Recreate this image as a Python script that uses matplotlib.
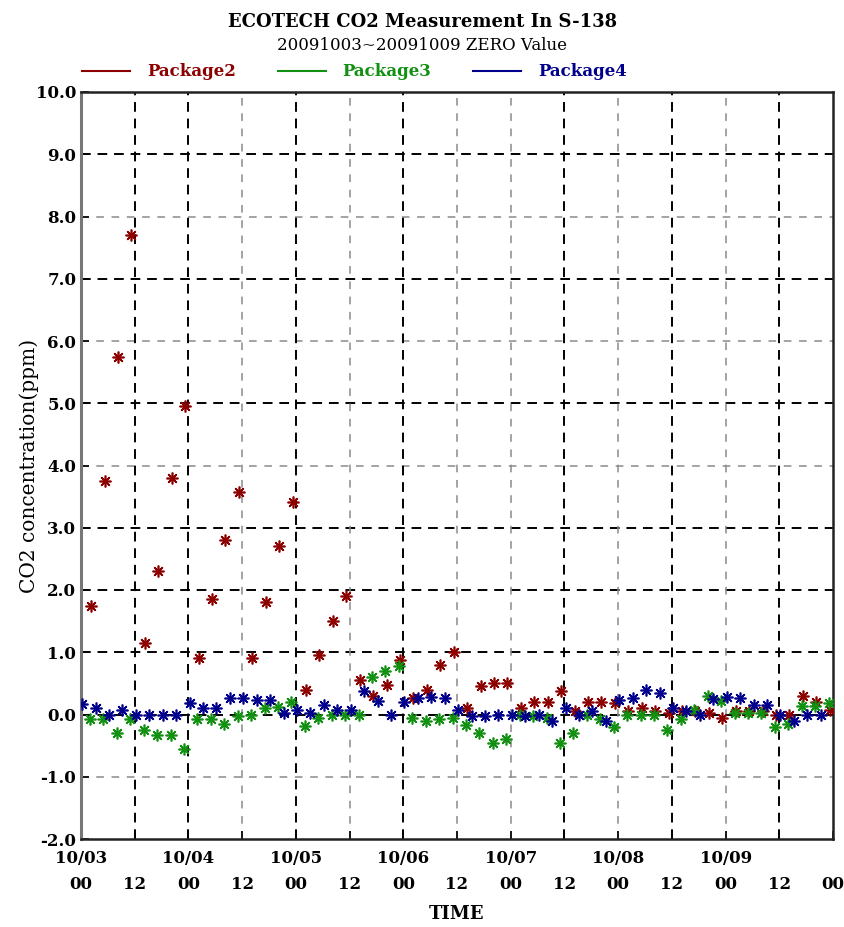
import pandas as pd
import matplotlib
matplotlib.use('Agg')
import matplotlib.pyplot as plt
import matplotlib.dates as mdates
from matplotlib.lines import Line2D
from matplotlib.ticker import FuncFormatter

# Time window
start = pd.Timestamp('2009-10-03 00:00')
end = pd.Timestamp('2009-10-10 00:00')

# Samples every 3 hours
pkg2_time = pd.date_range('2009-10-03 02:15', periods=56, freq='3h')
pkg2_vals = [1.75, 3.75, 5.75, 7.70, 1.15, 2.30, 3.80, 4.95, 0.90, 1.85,
             2.80, 3.58, 0.90, 1.80, 2.70, 3.42, 0.40, 0.96, 1.50, 1.90,
             0.55, 0.30, 0.48, 0.88, 0.27, 0.40, 0.80, 1.00, 0.10, 0.45,
             0.50, 0.50, 0.10, 0.20, 0.20, 0.38, 0.05, 0.20, 0.20, 0.18,
             0.05, 0.10, 0.05, 0.02, 0.05, 0.05, 0.02, -0.05, 0.05, 0.05,
             0.05, 0.00, 0.00, 0.30, 0.20, 0.08]

pkg3_time = pd.date_range('2009-10-03 02:00', periods=56, freq='3h')
pkg3_vals = [-0.08, -0.08, -0.30, -0.08, -0.25, -0.33, -0.33, -0.55, -0.08, -0.08,
             -0.15, -0.03, 0.00, 0.10, 0.12, 0.20, -0.18, -0.05, 0.00, 0.00,
             0.00, 0.60, 0.70, 0.78, -0.05, -0.10, -0.08, -0.05, -0.17, -0.30,
             -0.45, -0.40, 0.00, -0.03, -0.05, -0.45, -0.30, 0.00, -0.08, -0.20,
             0.00, 0.00, 0.00, -0.25, -0.08, 0.08, 0.30, 0.22, 0.03, 0.03,
             0.03, -0.20, -0.15, 0.13, 0.13, 0.18]

pkg4_time = pd.date_range('2009-10-03 00:15', periods=56, freq='3h')
pkg4_vals = [0.17, 0.10, 0.00, 0.08, 0.00, 0.00, 0.00, 0.00, 0.18, 0.10,
             0.10, 0.27, 0.27, 0.24, 0.24, 0.03, 0.08, 0.03, 0.15, 0.08,
             0.08, 0.37, 0.21, 0.00, 0.20, 0.27, 0.28, 0.27, 0.08, -0.03,
             -0.03, 0.00, 0.00, -0.03, 0.00, -0.10, 0.10, 0.00, 0.05, -0.10,
             0.24, 0.27, 0.40, 0.35, 0.10, 0.05, 0.00, 0.25, 0.28, 0.27,
             0.16, 0.16, 0.00, -0.10, 0.00, 0.00]

y_ticks = [-2, -1, 0, 1, 2, 3, 4, 5, 6, 7, 8, 9, 10]

red = '#8c0000'
green = '#129012'
blue = '#00008c'

plt.rcParams['font.family'] = 'DejaVu Serif'

fig = plt.figure(figsize=(8.45, 9.27), dpi=100)
ax = fig.add_axes([81 / 845, 1 - 839 / 927, 752 / 845, 747 / 927])

# Grid: the original mixes black and grey dashed lines
black_dash = dict(color='black', lw=1.4, ls=(0, (5, 3.5)), zorder=1)
grey_dash = dict(color='#8a8a8a', lw=1.1, ls=(0, (5, 5)), zorder=1)

grid_h = [9, 8, 7, 6, 5, 4, 3, 2, 1, 0, -1]
grid_h_dark = [True, False, True, False, True, False, True, True, True, True, False]
for yv, dark in zip(grid_h, grid_h_dark):
    ax.axhline(yv, **(black_dash if dark else grey_dash))

grid_v = pd.date_range('2009-10-03 12:00', '2009-10-09 12:00', freq='12h')
grid_v_dark = [True, True, False, True, False, True, False, False, True,
               False, True, False, True]
for xv, dark in zip(grid_v, grid_v_dark):
    ax.axvline(xv, **(black_dash if dark else grey_dash))

# Asterisk markers, no connecting line
mk = dict(ls='none', marker=(8, 2, 0), ms=8.5, mew=1.2, zorder=3)
ax.plot(pkg2_time, pkg2_vals, color=red, **mk)
ax.plot(pkg3_time, pkg3_vals, color=green, **mk)
ax.plot(pkg4_time, pkg4_vals, color=blue, **mk)

ax.set_xlim(start, end)
ax.set_ylim(-2, 10)
ax.set_yticks(y_ticks)
ax.yaxis.set_major_formatter(FuncFormatter(lambda v, p: '%.1f' % v))

ax.xaxis.set_major_locator(mdates.HourLocator(byhour=[0, 12]))


def time_label(v, pos):
    t = mdates.num2date(v).replace(tzinfo=None)
    if t.hour == 0 and t < end:
        return t.strftime('%m/%d') + '\n' + t.strftime('%H')
    return '\n' + t.strftime('%H')


ax.xaxis.set_major_formatter(FuncFormatter(time_label))
ax.tick_params(axis='both', direction='in', length=6, width=1.2,
               labelsize=12)
ax.tick_params(axis='x', pad=8)
for lab in ax.get_xticklabels() + ax.get_yticklabels():
    lab.set_fontweight('bold')
for lab in ax.get_xticklabels():
    lab.set_linespacing(1.65)

for side in ['top', 'right', 'bottom']:
    ax.spines[side].set_color('#222222')
    ax.spines[side].set_linewidth(1.8)
ax.spines['left'].set_color('#777777')
ax.spines['left'].set_linewidth(2.2)

ax.set_ylabel('CO2 concentration(ppm)', fontsize=14.5)
ax.yaxis.set_label_coords(-0.056, 0.5)
ax.set_xlabel('TIME', fontsize=13, fontweight='bold')
ax.xaxis.set_label_coords(0.5, -0.088)

fig.text(0.5, 1 - 22 / 927, 'ECOTECH CO2 Measurement In S-138',
         ha='center', va='center', fontsize=13, fontweight='bold')
fig.text(0.5, 1 - 45 / 927, '20091003~20091009 ZERO Value',
         ha='center', va='center', fontsize=12)

handles = [Line2D([], [], color=red, lw=1.5),
           Line2D([], [], color=green, lw=1.5),
           Line2D([], [], color=blue, lw=1.5)]
fig.legend(handles, ['Package2', 'Package3', 'Package4'],
           loc='center left', bbox_to_anchor=(82 / 845, 1 - 72 / 927),
           ncol=3, frameon=False, handlelength=2.9, handletextpad=1.0,
           columnspacing=2.5, borderpad=0, borderaxespad=0,
           labelcolor='linecolor', prop={'size': 12, 'weight': 'bold'})

fig.savefig('out.png', dpi=100)
